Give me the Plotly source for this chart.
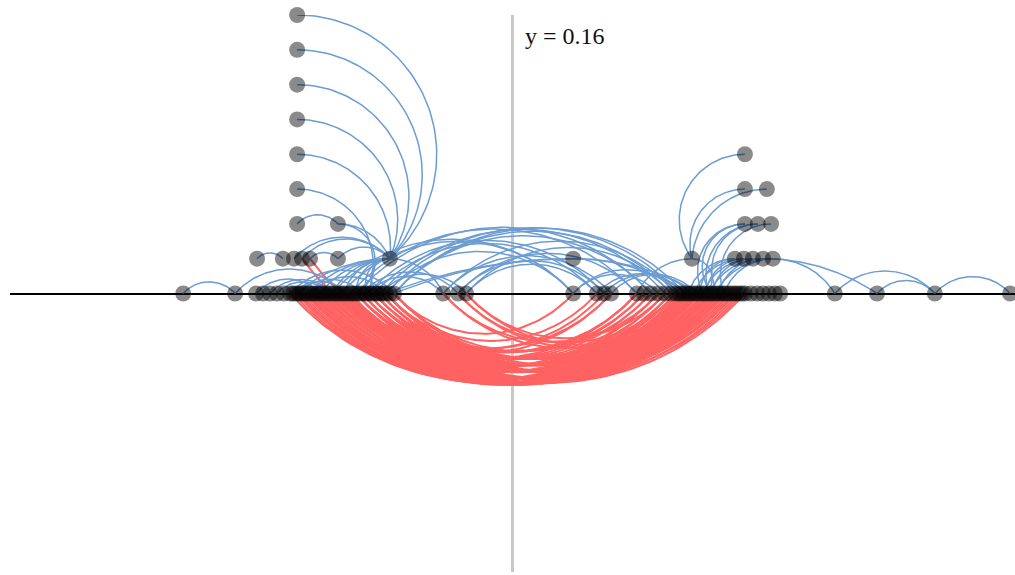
import numpy as np
import plotly.graph_objects as go

# ---- nodes: horizontal position per stacking level ----
level0_x = [
    -9.45, -7.96,
    -7.36, -7.16, -6.96, -6.76, -6.56,
    -6.38, -6.30, -6.21, -6.13, -6.04, -5.95, -5.87, -5.78, -5.70, -5.61,
    -5.52, -5.44, -5.35, -5.27, -5.18, -5.09, -5.01, -4.92, -4.84, -4.75, -4.66,
    -4.49, -4.32, -4.15, -3.97, -3.80, -3.63, -3.40,
    -1.99, -1.56, -1.33,
    1.74, 2.42, 2.63, 2.83,
    3.57, 3.77, 3.97, 4.18, 4.38, 4.55,
    4.69, 4.78, 4.86, 4.95, 5.04, 5.12, 5.21, 5.29, 5.38, 5.47, 5.55, 5.64,
    5.72, 5.81, 5.90, 5.98, 6.07, 6.15, 6.24, 6.33, 6.41, 6.50, 6.59, 6.67,
    6.84, 7.02, 7.19, 7.36, 7.53, 7.68,
    9.25, 10.46, 12.12, 14.28,
]
level1_x = [-7.33, -6.59, -6.27, -6.04, -5.81, -5.01, -3.52, 1.74, 5.15,
            6.38, 6.64, 6.90, 7.19, 7.47]
level2_x = [-6.18, -5.01, 6.67, 7.04, 7.42]
level3_x = [-6.18, 6.67, 7.30]
level4_x = [-6.18, 6.67]
level5_x = [-6.18]
level6_x = [-6.18]
level7_x = [-6.18]
level8_x = [-6.18]
# further baseline nodes without links
level0_more_x = [-4.58, -4.40, -4.23, -4.06, -3.89, -3.72, -3.52]

node_groups = [(level0_x, 0), (level1_x, 1), (level2_x, 2), (level3_x, 3),
               (level4_x, 4), (level5_x, 5), (level6_x, 6), (level7_x, 7),
               (level8_x, 8), (level0_more_x, 0)]
node_x, node_y = [], []
for xs, lev in node_groups:
    node_x += xs
    node_y += [lev] * len(xs)

# ---- links between nodes (indices into node_x / node_y) ----
blue_links = [
    # far left
    (0, 1), (1, 25), (82, 83), (86, 87), (87, 88), (2, 17), (4, 21),
    # left column
    (109, 88), (108, 88), (107, 88), (106, 88), (104, 88), (101, 30),
    (96, 97), (97, 28), (97, 88), (84, 88), (85, 88),
    (9, 88), (13, 88), (17, 88), (21, 88), (25, 88), (28, 88), (30, 88), (32, 88),
    (7, 34), (10, 29), (14, 33), (5, 20), (8, 26),
    # across the middle
    (32, 46), (33, 49), (34, 47), (27, 42), (28, 44), (24, 38), (34, 44),
    (34, 51), (35, 41), (36, 40), (37, 39), (30, 35), (32, 37), (29, 36),
    (38, 49), (39, 51), (41, 55), (40, 53), (38, 45), (21, 38), (30, 40),
    (31, 39), (33, 38), (36, 42), (37, 47), (35, 48),
    (34, 89), (33, 89), (89, 52), (89, 56), (88, 35), (42, 90), (90, 58),
    # right column
    (105, 90), (102, 90), (103, 90), (98, 60), (99, 62), (100, 64),
    (98, 57), (99, 59),
    (91, 56), (92, 58), (93, 60), (94, 62), (95, 64),
    (91, 52), (92, 54), (93, 57), (94, 59), (95, 61),
    # far right
    (95, 78), (94, 79), (78, 80), (79, 80), (80, 81),
]
red_links = [
    (10, 56), (12, 58), (14, 60), (16, 62), (18, 64), (20, 66), (22, 67),
    (24, 69), (26, 71), (8, 53), (9, 55),
    (13, 52), (15, 54), (17, 56), (19, 58), (21, 60), (23, 62), (25, 64),
    (27, 66), (28, 68), (29, 70),
    (19, 48), (21, 50), (23, 52), (25, 54), (27, 56), (28, 58), (29, 60),
    (30, 62), (31, 64), (32, 66), (33, 68), (17, 47),
    (24, 46), (26, 47), (28, 48), (29, 50), (30, 52), (31, 54), (32, 56),
    (33, 58), (34, 60), (22, 45),
    (28, 43), (29, 44), (30, 45), (31, 46), (32, 47), (33, 48), (34, 51),
    (27, 42),
    (32, 42), (33, 43), (34, 44), (31, 42),
    (12, 51), (14, 53), (10, 49), (16, 55), (20, 59), (18, 57), (26, 65),
    (22, 61), (24, 63), (11, 59), (13, 61), (15, 63), (7, 50),
    (35, 51), (36, 48), (37, 46), (37, 54), (35, 45), (28, 40), (30, 41),
    (33, 39), (34, 38), (25, 41), (36, 56),
    (86, 56), (85, 53),
]

SAG = 0.225  # depth of a flat arc relative to its chord


def flat_arc(p0, p1, side):
    """Circular arc through p0, p1 whose depth is SAG * chord."""
    (x0, y0), (x1, y1) = sorted([p0, p1])
    vx, vy = x1 - x0, y1 - y0
    w = np.hypot(vx, vy)
    nx, ny = -vy / w, vx / w
    s = SAG * w
    r = (w * w / 4 + s * s) / (2 * s)
    cx = (x0 + x1) / 2 - side * nx * (r - s)
    cy = (y0 + y1) / 2 - side * ny * (r - s)
    beta = np.arctan2(side * ny, side * nx)
    alpha = np.arcsin(w / 2 / r)
    t = np.linspace(beta + side * alpha, beta - side * alpha, 70)
    return cx + r * np.cos(t), cy + r * np.sin(t)


def hanging_arc(p0, p1):
    """Circle arc leaving the higher node horizontally, ending on the lower."""
    (xu, yu), (xl, yl) = sorted([p0, p1], key=lambda p: -p[1])
    dx, dy = xl - xu, yu - yl
    r = (dx * dx + dy * dy) / (2 * dy)
    cx, cy = xu, yu - r
    a_end = np.arctan2(yl - cy, xl - cx)
    if dx < 0 and a_end < 0:
        a_end += 2 * np.pi
    t = np.linspace(np.pi / 2, a_end, 70)
    return cx + r * np.cos(t), cy + r * np.sin(t)


def link_trace(links, side, color, width):
    xs, ys = [], []
    for i, j in links:
        p, q = (node_x[i], node_y[i]), (node_x[j], node_y[j])
        if side > 0 and node_y[i] != node_y[j]:
            ax_, ay_ = hanging_arc(p, q)
        else:
            ax_, ay_ = flat_arc(p, q, side)
        xs += list(ax_) + [None]
        ys += list(ay_) + [None]
    return go.Scatter(x=xs, y=ys, mode="lines", hoverinfo="skip",
                      line=dict(color=color, width=width), showlegend=False)


fig = go.Figure()
fig.add_trace(link_trace(red_links, -1, "#ff6262", 2.0))
fig.add_trace(link_trace(blue_links, 1, "#6c9cd2", 1.5))
fig.add_trace(go.Scatter(
    x=node_x, y=node_y, mode="markers", showlegend=False, cliponaxis=False,
    hoverinfo="skip",
    marker=dict(size=16, color="rgba(0,0,0,0.46)", line=dict(width=0)),
))

fig.add_annotation(x=0, y=7.4, xref="x", yref="y", text="y = 0.16",
                   showarrow=False, xanchor="left", yanchor="middle", xshift=10,
                   font=dict(family="Liberation Serif", size=24, color="#111"))

fig.update_layout(
    width=1015, height=575,
    margin=dict(l=10, r=0, t=15, b=3),
    paper_bgcolor="white", plot_bgcolor="white",
    xaxis=dict(range=[-14.42, 14.42], showgrid=False, showticklabels=False,
               ticks="", zeroline=True, zerolinecolor="#c8c8c8", zerolinewidth=3),
    yaxis=dict(range=[-8, 8], showgrid=False, showticklabels=False,
               ticks="", zeroline=True, zerolinecolor="black", zerolinewidth=1.5),
)

fig.write_html("out.html", config={"displayModeBar": False})
